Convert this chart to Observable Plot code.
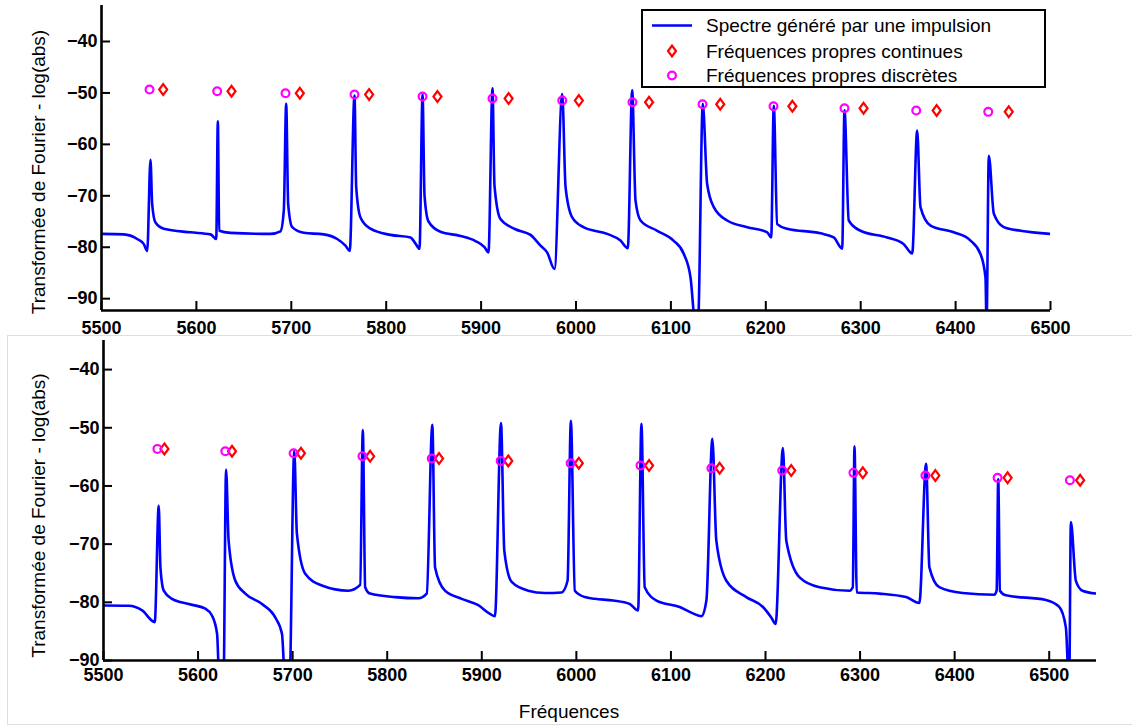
<!DOCTYPE html>
<html><head><meta charset="utf-8">
<script src="https://cdn.jsdelivr.net/npm/d3@7"></script>
<script src="https://cdn.jsdelivr.net/npm/@observablehq/plot@0.6"></script>
<style>
html,body{margin:0;padding:0;background:#fff;}
#root{position:relative;width:1132px;height:726px;overflow:hidden;font-family:"Liberation Sans",Arial,Helvetica,sans-serif;}
#topPanel{position:absolute;left:0;top:0;}
#bottomPanel{position:absolute;left:0;top:335px;}
#frame2{position:absolute;left:7px;top:335px;width:1130px;height:390px;border:1px solid #dedede;box-sizing:border-box;}
#legend{position:absolute;left:641px;top:9px;width:405px;height:79px;border:2px solid #000;background:#fff;box-sizing:border-box;}
</style></head>
<body><div id="root"><div id="frame2"></div><div id="topPanel"></div><div id="bottomPanel"></div><div id="legend"></div></div>
<script>
// ---------- data ----------
const yLabelText = "Transformée de Fourier - log(abs)";
const xLabelText = "Fréquences";
const legendLabels = ["Spectre généré par une impulsion", "Fréquences propres continues", "Fréquences propres discrètes"];

const xTicks = [5500, 5600, 5700, 5800, 5900, 6000, 6100, 6200, 6300, 6400, 6500];
const yTicks = [-40, -50, -60, -70, -80, -90];
const xDomainTop = [5500, 6500];
const yDomainTop = [-92.3, -33];
const xDomainBottom = [5500, 6550];
const yDomainBottom = [-90, -35];

// top panel spectrum [frequency, level]
const spectrumTop = [[5500,-77.4],[5523.5,-77.5],[5537.6,-78.4],[5544.6,-79.4],[5548.2,-80.7],[5551.6,-63.0],[5553.4,-71.6],[5556.9,-75.2],[5565.6,-76.4],[5593.8,-77.1],[5614.9,-77.5],[5620.9,-78.4],[5622.6,-55.5],[5624,-76.8],[5635.9,-77.2],[5678.1,-77.4],[5688.6,-76.9],[5692.1,-72.9],[5694.6,-52.1],[5696.7,-71.6],[5701,-76.1],[5713.2,-77.2],[5734.2,-77.5],[5748.4,-78.4],[5757.1,-79.7],[5761.6,-80.7],[5766.6,-50.5],[5768.4,-68.3],[5772.9,-74.2],[5783.5,-76.4],[5804.5,-77.6],[5825.6,-78.1],[5830.9,-79.3],[5835.1,-80.3],[5838.3,-50.3],[5840.4,-70],[5844.6,-75],[5857.2,-77],[5878.3,-77.8],[5894.1,-78.8],[5903.6,-80],[5907.8,-81],[5912,-49.1],[5914.1,-68],[5920.4,-74.5],[5936.2,-76.5],[5952.1,-77.6],[5962.6,-79.7],[5969.6,-81.0],[5977.3,-84.2],[5985.5,-50.2],[5989,-68.3],[5996,-74.2],[6007.9,-76.1],[6032.9,-77.4],[6046.9,-78.7],[6054.6,-80.2],[6059.2,-49.5],[6062.7,-70.9],[6068,-74.8],[6085.6,-76.8],[6102.7,-78.7],[6113.6,-81.3],[6120.7,-85.9],[6125.9,-95],[6128.5,-95],[6133.6,-52.1],[6138.2,-67.7],[6145.2,-72.2],[6159.3,-74.8],[6180.4,-76.1],[6201.5,-77.1],[6205.7,-78.1],[6208.4,-52.5],[6212,-75.5],[6222.5,-76.4],[6257.6,-77.3],[6271.6,-78.1],[6280.5,-80.3],[6282.9,-53.4],[6287.4,-74.8],[6299.8,-76.8],[6327.9,-78.1],[6345.4,-79.4],[6354.3,-81.2],[6359.5,-57.3],[6363,-72.2],[6373.6,-75.8],[6398.1,-77.1],[6415.7,-78.7],[6426.2,-81.3],[6431.5,-85.9],[6432.6,-95],[6435,-62.2],[6440.3,-73.5],[6450.8,-76.1],[6468.4,-76.8],[6500,-77.4]];

const topDiscreteFreq = [5550.6,5621.9,5693.9,5766.6,5838.3,5912,5985.5,6059.5,6133.3,6208.1,6282.9,6358.5,6434.4];
const topContinuousFreq = [5565,5637,5709,5782,5854,5929,6003,6077,6152,6228,6303,6380,6456];
const topMarkerLevel = [-49.34,-49.67,-50.06,-50.31,-50.70,-51.09,-51.48,-51.81,-52.20,-52.59,-52.98,-53.42,-53.68];

// bottom panel spectrum [frequency, level]
const spectrumBottom = [[5500,-80.55],[5526.7,-80.6],[5540.9,-81.4],[5554.2,-83.4],[5558.4,-63.4],[5560.2,-74.0],[5563.7,-78.0],[5572.5,-79.4],[5590.1,-80.3],[5607.7,-81.1],[5614.8,-82.3],[5620.1,-85.4],[5622.8,-95],[5626.8,-95],[5629.6,-57.2],[5632.3,-69.4],[5639.4,-76.3],[5649.9,-78.5],[5667.6,-80.3],[5681.6,-82.6],[5688.7,-85.4],[5692.5,-95],[5696.5,-95],[5701.7,-53.9],[5704.5,-68.2],[5713.3,-75.1],[5730.9,-77.1],[5759,-78.0],[5771.4,-77.0],[5774.2,-50.4],[5776.7,-77.4],[5781.9,-78.5],[5808.3,-79.1],[5832.9,-79.3],[5841.8,-78.5],[5847.7,-49.5],[5850.6,-74.0],[5861.1,-78.0],[5878.8,-79.4],[5896.3,-80.5],[5908.7,-82.0],[5913.9,-82.4],[5920.3,-49.2],[5923.8,-71.1],[5931.6,-76.5],[5949.1,-78.0],[5966.7,-78.4],[5984.4,-78.3],[5990.7,-76.3],[5994.2,-48.8],[5998.4,-78.0],[6009,-79.1],[6019.5,-79.4],[6038.9,-79.7],[6056.5,-80.3],[6065.3,-81.4],[6068.8,-49.3],[6072.3,-77.4],[6084.7,-79.7],[6109.3,-80.8],[6123.3,-81.9],[6132.2,-82.4],[6137.5,-79.7],[6143.8,-51.9],[6148,-69.4],[6158.6,-76.3],[6179.7,-79.1],[6197.3,-80.8],[6206.1,-82.6],[6210.7,-83.7],[6218.4,-53.5],[6222,-69.4],[6236,-75.7],[6257.1,-77.4],[6288.8,-78.0],[6292.3,-77.4],[6294.1,-53.2],[6296.5,-78.3],[6320.5,-78.5],[6348.7,-79.1],[6362.7,-80.1],[6369.8,-56.2],[6373.3,-74.0],[6383.8,-77.4],[6408.4,-78.4],[6441.9,-78.7],[6444.4,-78.0],[6446.1,-58.8],[6447.9,-78.0],[6454.3,-78.8],[6496.5,-79.6],[6510.6,-80.8],[6517.6,-84.3],[6521.1,-95],[6522.9,-66.2],[6528.2,-76.3],[6535.2,-78.0],[6550,-78.5]];

const bottomDiscreteFreq = [5557,5628.8,5701,5773.8,5847.1,5920,5993.9,6067.8,6142.8,6217.7,6293,6369.1,6445.4,6521.9];
const bottomContinuousFreq = [5564.4,5635.9,5708.8,5781.9,5854.8,5928,6002.6,6076.9,6151.5,6227.2,6302.9,6379.6,6456,6532.7];
const bottomMarkerLevel = [-53.63,-54.04,-54.38,-54.90,-55.29,-55.69,-56.10,-56.49,-56.96,-57.35,-57.75,-58.21,-58.61,-59.02];

// ---------- styles ----------
const FONT = '"Liberation Sans", Arial, Helvetica, sans-serif';
const BLUE = "#0000ff", RED = "#ff0000", MAGENTA = "#ff00ff";
const diamondSymbol = {
  draw(ctx, size) {
    const r = Math.sqrt(size / Math.PI);
    const w = r * 1.0, h = r * 1.35;
    ctx.moveTo(0, -h); ctx.lineTo(w, 0); ctx.lineTo(0, h); ctx.lineTo(-w, 0); ctx.closePath();
  }
};

function zipPts(xs, ys) { return xs.map((x, i) => ({x, y: ys[i]})); }

function panel(o) {
  return Plot.plot({
    width: 1132,
    height: o.height,
    marginTop: o.mt, marginBottom: o.mb, marginLeft: o.ml, marginRight: o.mr,
    style: {fontFamily: FONT, background: "none", overflow: "visible", color: "#000"},
    x: {domain: o.xDomain},
    y: {domain: o.yDomain},
    marks: [
      Plot.line(o.spectrum, {x: d => d[0], y: d => d[1], stroke: BLUE, strokeWidth: 2.6, curve: "monotone-x", clip: true}),
      Plot.dot(o.continuous, {x: "x", y: "y", symbol: diamondSymbol, r: 4, stroke: RED, strokeWidth: 2.2, fill: "none"}),
      Plot.dot(o.discrete, {x: "x", y: "y", r: 3.9, stroke: MAGENTA, strokeWidth: 2.2, fill: "none"}),
      Plot.axisX({ticks: xTicks, tickFormat: "d", tickSize: -9, tickPadding: o.xPad, strokeWidth: 2, fontSize: 18, fontWeight: "bold", label: null}),
      Plot.axisY({ticks: yTicks, tickFormat: "d", tickSize: -9, tickPadding: 13, strokeWidth: 2, fontSize: 18, fontWeight: "bold", label: null}),
      Plot.ruleX([o.xDomain[0]], {stroke: "#000", strokeWidth: 2.6}),
      Plot.ruleY([o.yDomain[0]], {stroke: "#000", strokeWidth: 2.6}),
      Plot.text([yLabelText], {text: d => d, frameAnchor: "left", textAnchor: "middle", lineAnchor: "middle", rotate: -90, dx: o.ylDx, dy: o.ylDy, fontSize: 19}),
      ...(o.xLabel ? [Plot.text([xLabelText], {text: d => d, frameAnchor: "bottom", textAnchor: "middle", lineAnchor: "middle", dx: -31, dy: 51, fontSize: 19})] : [])
    ]
  });
}

document.getElementById("topPanel").append(panel({
  height: 335, mt: 5, mb: 25, ml: 101, mr: 82,
  xDomain: xDomainTop, yDomain: yDomainTop, xPad: 20,
  spectrum: spectrumTop,
  discrete: zipPts(topDiscreteFreq, topMarkerLevel),
  continuous: zipPts(topContinuousFreq, topMarkerLevel),
  ylDx: -63, ylDy: 14, xLabel: false
}));

document.getElementById("bottomPanel").append(panel({
  height: 391, mt: 5, mb: 66, ml: 103, mr: 36,
  xDomain: xDomainBottom, yDomain: yDomainBottom, xPad: 17,
  spectrum: spectrumBottom,
  discrete: zipPts(bottomDiscreteFreq, bottomMarkerLevel),
  continuous: zipPts(bottomContinuousFreq, bottomMarkerLevel),
  ylDx: -65, ylDy: 15, xLabel: true
}));

// ---------- legend ----------
const lg = d3.select("#legend").append("svg").attr("width", 401).attr("height", 75)
  .style("display", "block").style("font-family", FONT);
const rows = [14.5, 40, 64.5];
lg.append("line").attr("x1", 9).attr("x2", 49).attr("y1", rows[0]).attr("y2", rows[0])
  .attr("stroke", BLUE).attr("stroke-width", 2.6);
lg.append("path").attr("d", "M29,34.6L33,40L29,45.4L25,40Z").attr("fill", "none").attr("stroke", RED).attr("stroke-width", 2.2);
lg.append("circle").attr("cx", 29).attr("cy", rows[2]).attr("r", 3.9).attr("fill", "none").attr("stroke", MAGENTA).attr("stroke-width", 2.2);
legendLabels.forEach((t, i) => {
  lg.append("text").attr("x", 63).attr("y", rows[i]).attr("dy", "0.35em").attr("font-size", 19).text(t);
});
</script></body></html>
